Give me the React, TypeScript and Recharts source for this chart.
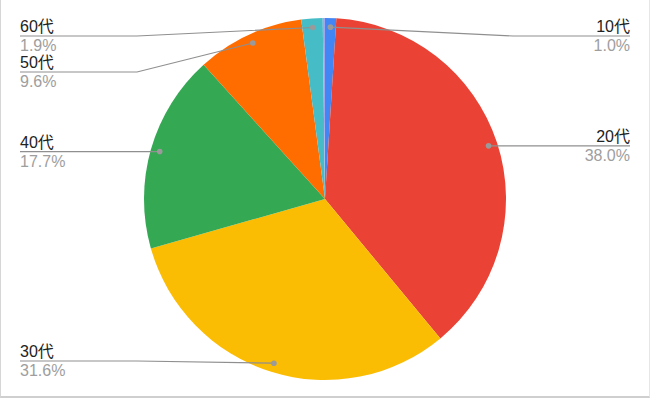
import React from "react";
import { PieChart, Pie, Cell } from "recharts";

const categories = ["10代", "20代", "30代", "40代", "50代", "60代", "70代"];
const values = [1.0, 38.0, 31.6, 17.7, 9.6, 1.9, 0.2];
const showLabel = [true, true, true, true, true, true, false];
const colors = ["#4285F4", "#EA4335", "#FBBC04", "#34A853", "#FF6D01", "#46BDC6", "#A3A6EC"];

const W = 650;
const H = 401;
const CX = 325;
const CY = 199;
const R = 181;
const LEFT_X = 20;
const RIGHT_X = 630;
const BEND = 188;
const MIN_Y = 36;
const MAX_Y = 361;
const GAP = 36;
const FONT = "Arial, 'Liberation Sans', 'Noto Sans CJK JP', sans-serif";

const data = categories.map((name, i) => ({ name, value: values[i] }));
const total = values.reduce((a, b) => a + b, 0);

type Lay = { dx: number; dy: number; ly: number; right: boolean };

function computeLayout(cx: number, cy: number, r: number): Lay[] {
  let acc = 0;
  const res: Lay[] = values.map((v) => {
    const mid = ((acc + v / 2) / total) * Math.PI * 2;
    acc += v;
    const dr = r * 0.95;
    const dx = cx + dr * Math.sin(mid);
    const dy = cy - dr * Math.cos(mid);
    return { dx, dy, ly: dy, right: dx >= cx };
  });
  [true, false].forEach((side) => {
    const idx = res
      .map((l, i) => i)
      .filter((i) => showLabel[i] && res[i].right === side)
      .sort((a, b) => res[a].dy - res[b].dy);
    let prev = -Infinity;
    idx.forEach((i) => {
      let y = Math.max(res[i].dy, MIN_Y, prev + GAP);
      y = Math.min(y, MAX_Y);
      res[i].ly = y;
      prev = y;
    });
  });
  return res;
}

const renderLabel = (props: any) => {
  const { index, cx, cy, outerRadius } = props;
  if (!showLabel[index]) return null;
  const lay = computeLayout(cx, cy, outerRadius)[index];
  const x = lay.right ? RIGHT_X : LEFT_X;
  const bx = lay.right ? cx + BEND : cx - BEND;
  const pct = ((values[index] / total) * 100).toFixed(1) + "%";
  return (
    <g key={"lbl" + index}>
      <path
        d={`M${lay.dx},${lay.dy}L${bx},${lay.ly}L${x},${lay.ly}`}
        stroke="#8f8f8f"
        strokeWidth={1.2}
        fill="none"
      />
      <circle cx={lay.dx} cy={lay.dy} r={2.8} fill="#9a9a9a" />
      <text
        x={x}
        y={lay.ly - 4}
        textAnchor={lay.right ? "end" : "start"}
        fontSize={16}
        fontFamily={FONT}
        fill="#222222"
      >
        {categories[index]}
      </text>
      <text
        x={x}
        y={lay.ly + 15}
        textAnchor={lay.right ? "end" : "start"}
        fontSize={16}
        fontFamily={FONT}
        fill="#9e9e9e"
      >
        {pct}
      </text>
    </g>
  );
};

export default function App() {
  return (
    <div style={{ position: "fixed", left: 0, top: 0, width: W, height: H, background: "#fff" }}>
      <PieChart width={W} height={H} margin={{ top: 0, right: 0, bottom: 0, left: 0 }}>
        <Pie
          data={data}
          dataKey="value"
          nameKey="name"
          cx={CX}
          cy={CY}
          outerRadius={R}
          startAngle={90}
          endAngle={-270}
          stroke="none"
          label={renderLabel}
          labelLine={false}
          isAnimationActive={false}
        >
          {data.map((d, i) => (
            <Cell key={d.name} fill={colors[i]} />
          ))}
        </Pie>
      </PieChart>
      <div
        style={{
          position: "absolute",
          left: 0,
          top: -2,
          width: W,
          height: H - 1,
          boxSizing: "border-box",
          borderLeft: "1px solid #d6d6d6",
          borderRight: "1px solid #e6e6e6",
          borderBottom: "2px solid #cfcfcf",
          pointerEvents: "none",
        }}
      />
    </div>
  );
}
